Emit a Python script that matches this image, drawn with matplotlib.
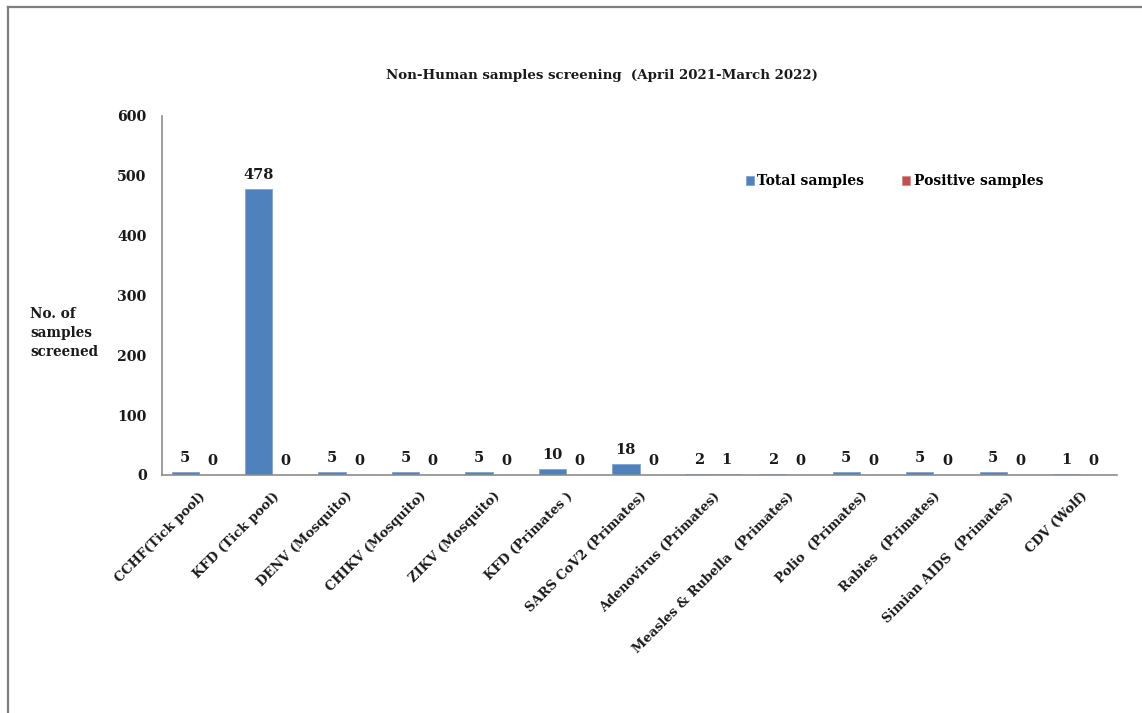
import matplotlib
matplotlib.use("Agg")
import matplotlib.pyplot as plt
from matplotlib.lines import Line2D
from matplotlib.transforms import ScaledTranslation
import numpy as np

categories = [
    "CCHF(Tick pool)", "KFD (Tick pool)", "DENV (Mosquito)", "CHIKV (Mosquito)",
    "ZIKV (Mosquito)", "KFD (Primates )", "SARS CoV2 (Primates)",
    "Adenovirus (Primates)", "Measles & Rubella  (Primates)", "Polio  (Primates)",
    "Rabies  (Primates)", "Simian AIDS  (Primates)", "CDV (Wolf)",
]
total_samples = [5, 478, 5, 5, 5, 10, 18, 2, 2, 5, 5, 5, 1]
positive_samples = [0, 0, 0, 0, 0, 0, 0, 1, 0, 0, 0, 0, 0]
y_ticks = [0, 100, 200, 300, 400, 500, 600]

BLUE = "#4F81BD"
RED = "#C0504D"
GREY = "#8C8C8C"
FONT = "DejaVu Serif"

plt.rcParams["font.family"] = FONT
plt.rcParams["font.weight"] = "bold"

W, H = 1142, 713
fig = plt.figure(figsize=(W / 100, H / 100), dpi=100)
ax = fig.add_axes([162 / W, 1 - 475 / H, (1117 - 162) / W, (475 - 116) / H])

x = np.arange(len(categories))
bw = 0.37
b1 = ax.bar(x - bw / 2, total_samples, bw, color=BLUE, edgecolor="#7FA3D0",
            linewidth=0.6, label="Total samples")
b2 = ax.bar(x + bw / 2, positive_samples, bw, color=RED, edgecolor="#D98C8A",
            linewidth=0.6, label="Positive samples")

for rects, vals in ((b1, total_samples), (b2, positive_samples)):
    for r, v in zip(rects, vals):
        ax.annotate(str(v), (r.get_x() + r.get_width() / 2, v),
                    xytext=(0, 5), textcoords="offset points",
                    ha="center", va="bottom", fontsize=10.5, fontweight="bold",
                    color="#1a1a1a")

ax.set_xlim(-0.5, len(categories) - 0.5)
ax.set_ylim(0, 600)
ax.set_yticks(y_ticks)
ax.set_yticklabels([str(t) for t in y_ticks], fontsize=10.2, fontweight="bold",
                   color="#1a1a1a")
ax.tick_params(axis="y", length=0, pad=11)
ax.set_xticks(x)
ax.set_xticklabels([])
ax.tick_params(axis="x", length=0)

for s in ("top", "right"):
    ax.spines[s].set_visible(False)
for s in ("left", "bottom"):
    ax.spines[s].set_color(GREY)
    ax.spines[s].set_linewidth(1.2)

# rotated category labels, anchored at their right end below each group
off = ScaledTranslation(5 / 100, -19 / 100, fig.dpi_scale_trans)
for xi, lab in zip(x, categories):
    ax.text(xi, 0, lab, transform=ax.get_xaxis_transform() + off,
            rotation=45, rotation_mode="anchor", ha="right", va="center",
            fontsize=9.4, fontweight="bold", color="#1a1a1a")

fig.text(602 / W, 1 - 75 / H, "Non-Human samples screening  (April 2021-March 2022)",
         ha="center", va="center", fontsize=9.6, fontweight="bold", color="#1a1a1a")

fig.text(30 / W, 1 - 333 / H, "No. of\nsamples\nscreened", ha="left", va="center",
         fontsize=9.8, fontweight="bold", linespacing=1.45, color="#1a1a1a")

ax_w = (1117 - 162) / W
leg = ax.legend(loc="center left",
                bbox_to_anchor=((733 - 162) / W / ax_w, (475 - 181) / (475 - 116)),
                ncol=2, frameon=False, handlelength=0.6, handleheight=0.6,
                handletextpad=0.25, columnspacing=2.7,
                prop={"family": FONT, "weight": "bold", "size": 10})

# outer frame
fig.add_artist(Line2D([7.5 / W, 1.0], [1 - 6.5 / H, 1 - 6.5 / H], transform=fig.transFigure,
                      color="#7F7F7F", linewidth=1.6))
fig.add_artist(Line2D([7.5 / W, 7.5 / W], [0, 1 - 6.5 / H], transform=fig.transFigure,
                      color="#7F7F7F", linewidth=1.6))

fig.savefig("out.png", dpi=100, facecolor="white")
